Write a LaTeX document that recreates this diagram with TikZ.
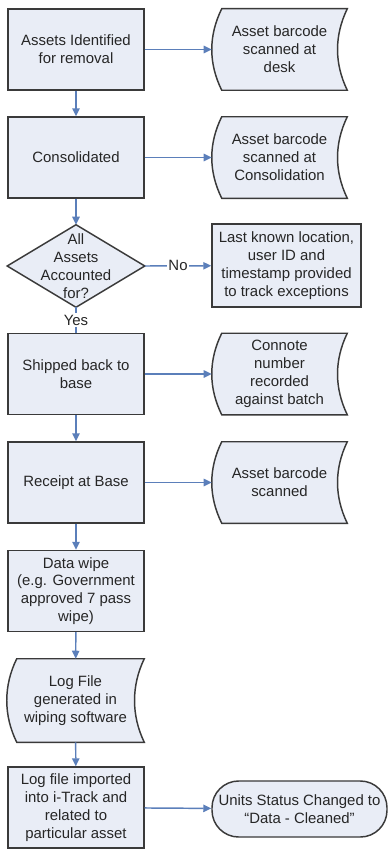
\documentclass[tikz,border=0pt]{standalone}
\usepackage{fontspec}
\setmainfont{Liberation Sans}
\usetikzlibrary{arrows.meta,calc,positioning}
\pgfdeclarelayer{bgbg}
\pgfdeclarelayer{bg}
\pgfsetlayers{bgbg,bg,main}
\definecolor{boxfill}{HTML}{E9EDF6}
\definecolor{boxline}{HTML}{3A3A3A}
\definecolor{arrowc}{HTML}{5B7FBA}
\tikzset{
  txt/.style={align=center, font=\fontsize{11.2}{13.4}\selectfont, inner sep=0pt, text=black!85},
  procbox/.style={txt, draw=boxline, fill=boxfill, line width=1.1pt, minimum width={136*0.75pt}, minimum height={81*0.75pt}},
  docnode/.style={txt, minimum width={135*0.75pt}, minimum height={81*0.75pt}},
  shp/.style={draw=boxline, fill=boxfill, line width=1.1pt},
  termbox/.style={txt, draw=boxline, fill=boxfill, line width=1.1pt, rounded corners=20pt, minimum width={175*0.75pt}, minimum height={56*0.75pt}},
  conn/.style={draw=arrowc, line width=1.1pt},
  arr/.style={conn, -{Triangle[length=6pt,width=5.5pt]}},
  lbl/.style={txt, fill=white, inner sep=1pt}
}
\newcommand\docpath[1]{%
  \draw[shp] ([xshift=7.5pt]#1.north west) -- (#1.north east)
    .. controls ($(#1.north east)+(-13,27)$) and ($(#1.south east)+(-13,-27)$) .. (#1.south east)
    -- ([xshift=7.5pt]#1.south west)
    .. controls ($(#1.south west)+(-3.3,-27)$) and ($(#1.north west)+(-3.3,27)$) .. cycle;}
\begin{document}
\begin{tikzpicture}[x=0.75pt,y=-0.75pt]
\begin{pgfonlayer}{bgbg}
\fill[white] (0,0) rectangle (388,849);
\end{pgfonlayer}
\useasboundingbox (0,0) rectangle (388,849);
% left column
\node[procbox] (b1) at (76,49.5) {Assets Identified\\for removal};
\node[procbox] (b2) at (76,157.5) {Consolidated};
\node[txt, minimum width={137*0.75pt}, minimum height={82*0.75pt}] (dia) at (76,266) {All\\Assets\\Accounted\\for?};
\node[procbox] (b3) at (76,374) {Shipped back to\\base};
\node[procbox] (b4) at (76,482.5) {Receipt at Base};
\node[procbox] (b5) at (76,591) {Data wipe\\(e.g. Government\\approved 7 pass\\wipe)};
\node[docnode, minimum width={137*0.75pt}, minimum height={83*0.75pt}] (log) at (75.5,700.5) {Log File\\generated in\\wiping software};
\node[procbox] (b6) at (76,807.5) {Log file imported\\into i-Track and\\related to\\particular asset};
% right column
\node[docnode] (d1) at (279.5,49.5) {Asset barcode\\scanned at\\desk};
\node[docnode] (d2) at (279.5,157.5) {Asset barcode\\scanned at\\Consolidation};
\node[procbox, minimum width={149*0.75pt}, minimum height={83*0.75pt}] (ex) at (286.5,265.5) {Last known location,\\user ID and\\timestamp provided\\to track exceptions};
\node[docnode] (d3) at (279.5,374) {Connote\\number\\recorded\\against batch};
\node[docnode] (d4) at (279.5,482.5) {Asset barcode\\scanned};
\node[termbox] (t) at (299.5,809) {Units Status Changed to\\``Data - Cleaned''};
% shapes on background
\begin{pgfonlayer}{bg}
\docpath{d1}
\docpath{d2}
\docpath{d3}
\docpath{d4}
\docpath{log}
\draw[shp] (dia.north) -- (dia.east) -- (dia.south) -- (dia.west) -- cycle;
\end{pgfonlayer}
% connectors
\draw[arr] (b1) -- (d1);
\draw[arr] (b2) -- (d2);
\draw[arr] (b3) -- (d3);
\draw[arr] (b4) -- (d4);
\draw[arr] (b6) -- (t);
\draw[arr] (b1) -- (b2);
\draw[arr] (b2) -- (dia.north);
\draw[arr] (dia.east) -- node[lbl]{No} (ex);
\draw[conn] (dia.south) -- node[lbl]{Yes} (b3);
\draw[arr] (b3) -- (b4);
\draw[arr] (b4) -- (b5);
\draw[arr] (b5) -- (log);
\draw[arr] (log) -- (b6);
\end{tikzpicture}
\end{document}
